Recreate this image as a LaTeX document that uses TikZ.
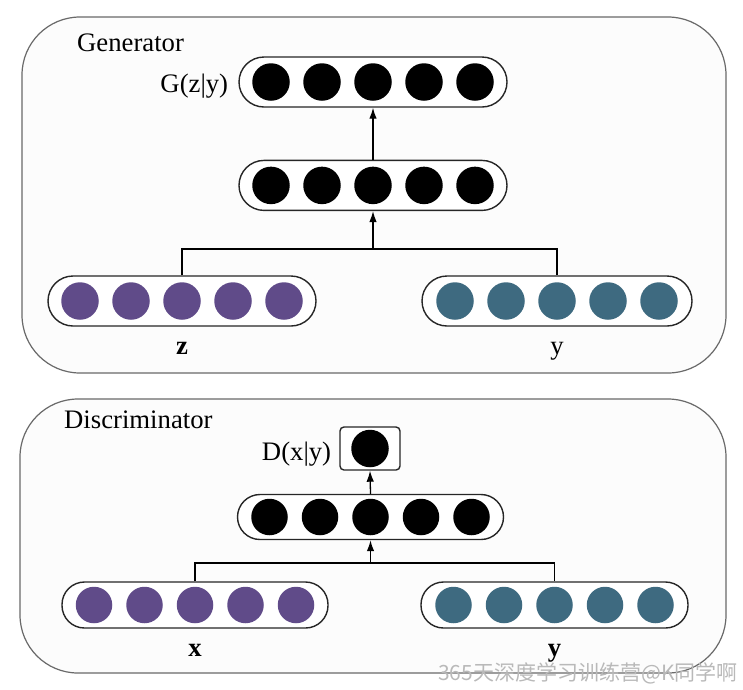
\documentclass[tikz,border=0pt]{standalone}
\usepackage{fontspec}
\setmainfont{Liberation Serif}
\newfontfamily\cjkfont{Noto Sans CJK SC}
\usepackage{xcolor}
\usetikzlibrary{arrows.meta, positioning, calc}
\definecolor{zpurple}{RGB}{96,75,137}
\definecolor{yteal}{RGB}{62,106,128}
\definecolor{framegray}{RGB}{105,105,105}
\tikzstyle{frame} = [rectangle, rounded corners=58pt, draw=framegray, line width=1.2pt, fill=gray!2, inner sep=0pt]
\tikzstyle{layer} = [rectangle, rounded corners=25pt, minimum width=268pt, minimum height=50pt, draw=black!85, line width=1.4pt, fill=white, inner sep=0pt]
\tikzstyle{dlayer} = [layer, rounded corners=22.5pt, minimum width=266pt, minimum height=45pt]
\tikzstyle{unit} = [circle, minimum size=37.5pt, inner sep=0pt, fill=black]
\tikzstyle{txt} = [font=\fontsize{26.7}{30}\selectfont, inner sep=2pt]
\tikzstyle{arrow} = [line width=1.3pt, -{Latex[length=11pt,width=7.5pt]}]
\tikzstyle{line} = [line width=1.3pt]

\begin{document}
\begin{tikzpicture}[x=1pt, y=-1pt]
    \useasboundingbox (0,0) rectangle (743,689);
    % frames
    \node (genframe) [frame, minimum width=704pt, minimum height=356pt] at (374,195) {};
    \node (disframe) [frame, minimum width=706pt, minimum height=274pt] at (373,536) {};

    % generator
    \node (gentitle) [txt, anchor=base west] at (75,51) {Generator};
    \node (gout) [layer] at (373,82) {};
    \node (gmid) [layer, below=52pt of gout] {};
    \node (zin) [layer] at (182,301) {};
    \node (yin) [layer, minimum width=270pt] at (557,301) {};
    \foreach \i in {1,...,5} {
        \node (gout-\i) [unit] at ($(gout)+({(\i-3)*51},0)$) {};
        \node (gmid-\i) [unit] at ($(gmid)+({(\i-3)*51},0)$) {};
        \node (zin-\i) [unit, fill=zpurple] at ($(zin)+({(\i-3)*51},0)$) {};
        \node (yin-\i) [unit, fill=yteal] at ($(yin)+({(\i-3)*51},0)$) {};
    }
    \node (goutlabel) [txt, left=8pt of gout, yshift=-4pt] {G(z|y)};
    \node (zlabel) [txt, below=13pt of zin] {\bfseries z};
    \node (ylabel) [txt, below=13pt of yin] {y};

    \coordinate (gjoin) at (373,249);
    \draw [line] (zin.north) |- (gjoin) -| (yin.north);
    \draw [arrow] (gjoin) -- (gmid.south);
    \draw [arrow] (gmid.north) -- (gout.south);

    % discriminator
    \node (distitle) [txt, anchor=base west] at (62,428) {Discriminator};
    \node (dout) [rectangle, rounded corners=4pt, draw=black!85, line width=1.4pt, fill=white, minimum width=60pt, minimum height=43pt] at (370,448.5) {};
    \node (dout-1) [unit] at (dout) {};
    \node (dmid) [dlayer] at (370.5,517) {};
    \node (xin) [dlayer, minimum height=46pt] at (195,605) {};
    \node (dyin) [dlayer, minimum width=267pt, minimum height=46pt] at (554.5,605) {};
    \foreach \i in {1,...,5} {
        \node (dmid-\i) [unit, minimum size=36.5pt] at ($(dmid)+({(\i-3)*50.5},0)$) {};
        \node (xin-\i) [unit, minimum size=36.5pt, fill=zpurple] at ($(xin)+({(\i-3)*50.5},0)$) {};
        \node (dyin-\i) [unit, minimum size=36.5pt, fill=yteal] at ($(dyin)+({(\i-3)*50.5},0)$) {};
    }
    \node (doutlabel) [txt, left=6pt of dout, yshift=-6pt] {D(x|y)};
    \node (xlabel) [txt, below=13pt of xin] {\bfseries x};
    \node (dylabel) [txt, below=13pt of dyin] {\bfseries y};

    \coordinate (djoin) at (370.5,563);
    \draw [line] (xin.north) |- (djoin) -| (dyin.north);
    \draw [arrow] (djoin) -- (dmid.south);
    \draw [arrow] (dmid.north) -- (dout.south);

    \node (mark) [font=\cjkfont\fontsize{21}{24}\selectfont, text=gray!55, inner sep=0pt] at (588,673) {365天深度学习训练营@K同学啊};
\end{tikzpicture}
\end{document}
